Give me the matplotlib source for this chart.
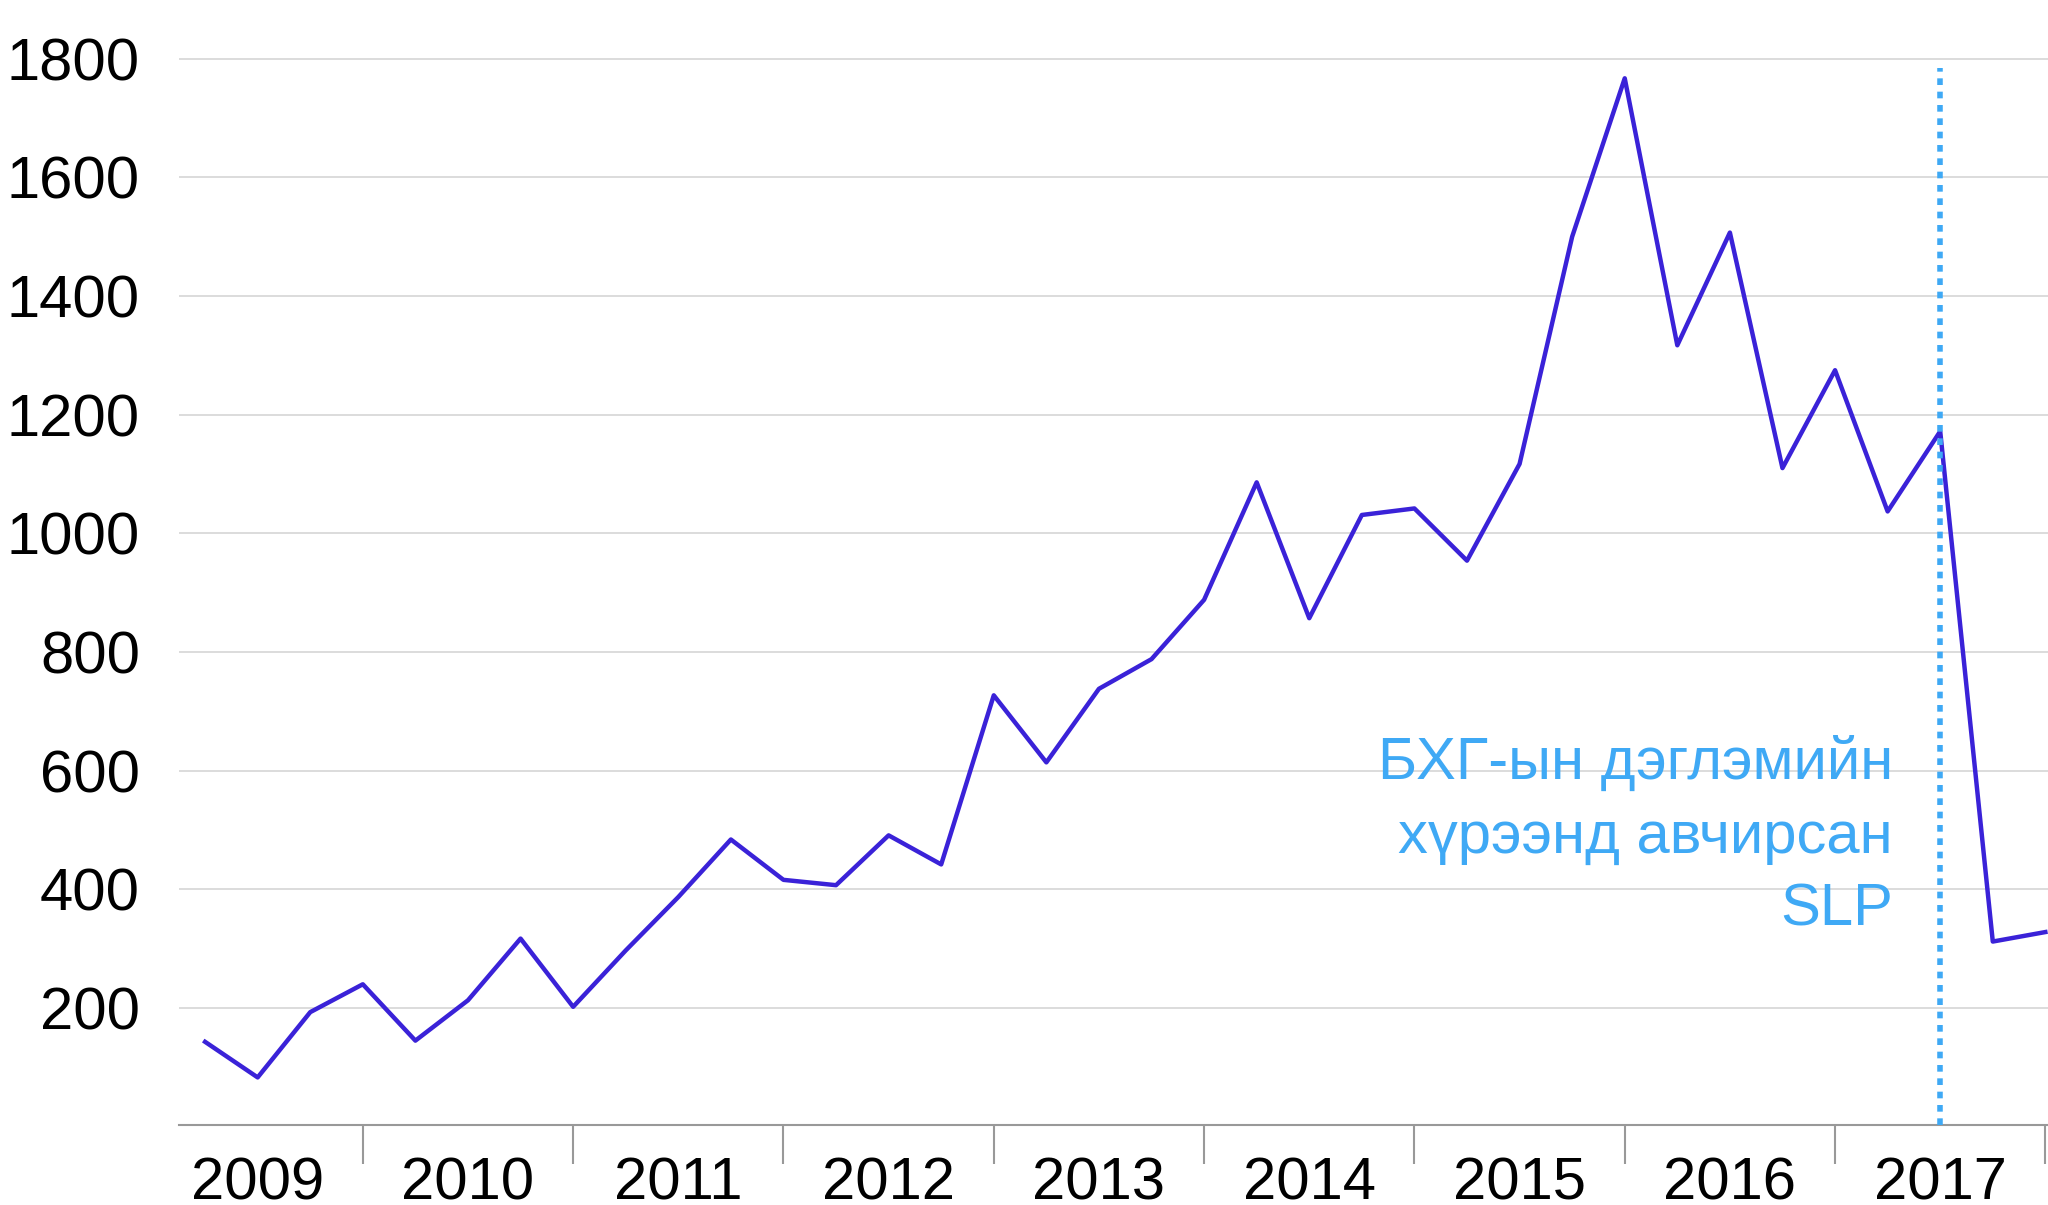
import matplotlib
matplotlib.use("Agg")
import matplotlib.pyplot as plt

values = [143, 83, 193, 240, 145, 213, 317, 202, 297, 387, 484, 416, 407, 491, 442,
          727, 614, 738, 788, 888, 1086, 857, 1031, 1042, 954, 1117, 1500, 1767,
          1317, 1507, 1110, 1275, 1037, 1172, 312, 328]
years = ["2009", "2010", "2011", "2012", "2013", "2014", "2015", "2016", "2017"]
yticks = [200, 400, 600, 800, 1000, 1200, 1400, 1600, 1800]
event_index = 33
note = "БХГ-ын дэглэмийн\nхүрээнд авчирсан\nSLP"

plt.rcParams['font.family'] = ['Liberation Sans', 'DejaVu Sans']
fig = plt.figure(figsize=(20.48, 12.05), dpi=100)
ax = fig.add_axes([0.0874, 0.066, 0.9126, 0.934])
x = list(range(len(values)))
ax.plot(x, values, color='#3a22d8', lw=3.2, zorder=3)
ax.vlines(event_index, 2, 1785, color='#3fa9f5', lw=4, ls=(0, (1.2, 1.2)), zorder=4)
ax.text(event_index - 0.9, 489, note, ha='right', va='center', color='#3fa9f5',
        fontsize=43, linespacing=1.42)

ax.set_xlim(-0.496, 35.05)
ax.set_ylim(2, 1899)
ax.set_yticks(yticks)
ax.tick_params(axis='y', length=0, labelsize=43, pad=28)
ax.grid(axis='y', color='#d9d9d9', lw=1.3)
ax.set_axisbelow(True)
ax.set_xticks([3 + 4 * k for k in range(len(years))])
ax.set_xticklabels([])
ax.set_xticks([1 + 4 * k for k in range(len(years))], minor=True)
ax.set_xticklabels(years, minor=True)
ax.tick_params(axis='x', which='major', length=28, width=1.5, color='#999999')
ax.tick_params(axis='x', which='minor', length=0, labelsize=43, pad=22)
for s in ['top', 'right', 'left']:
    ax.spines[s].set_visible(False)
ax.spines['bottom'].set_color('#999999')
ax.spines['bottom'].set_linewidth(1.5)
fig.savefig('out.png', dpi=100)
